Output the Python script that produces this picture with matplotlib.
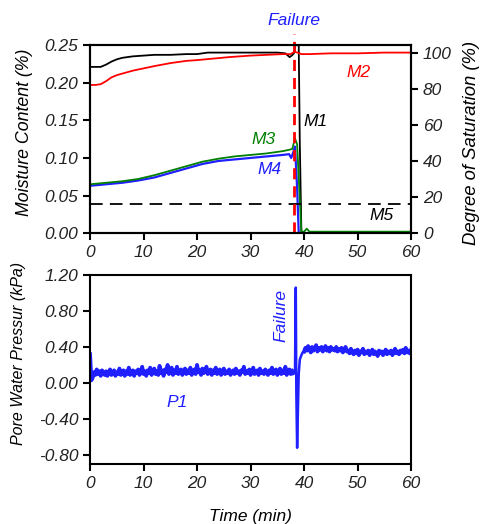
import numpy as np
import matplotlib
matplotlib.use("Agg")
import matplotlib.pyplot as plt

plt.rcParams['font.family'] = ['Liberation Sans', 'DejaVu Sans']
plt.rcParams['font.style'] = 'italic'
plt.rcParams['axes.unicode_minus'] = False

# -----------------------------
# Moisture sensors (top panel)
# -----------------------------
t_m1 = [0, 1, 2, 3, 4, 5, 6, 8, 10, 12, 15, 18, 20, 22, 25, 28, 30, 33, 35,
        36.5, 37.3, 37.7, 38.1, 38.4, 38.6, 39.0, 39.2, 39.5, 60]
m1 = [0.221, 0.221, 0.221, 0.224, 0.228, 0.231, 0.233, 0.235, 0.236, 0.237,
      0.237, 0.238, 0.238, 0.240, 0.240, 0.240, 0.240, 0.240, 0.240,
      0.239, 0.234, 0.236, 0.239, 0.250, 0.250, 0.250, 0.120, 0.000, 0.000]

t_m2 = [0, 1, 2, 3, 4, 5, 6, 8, 10, 12, 15, 18, 20, 23, 26, 30, 33, 36, 37.5,
        38.2, 38.8, 39.5, 41, 45, 50, 55, 60]
m2 = [0.197, 0.197, 0.198, 0.202, 0.207, 0.210, 0.212, 0.216, 0.219, 0.222,
      0.226, 0.229, 0.230, 0.232, 0.234, 0.236, 0.237, 0.238, 0.238,
      0.241, 0.240, 0.238, 0.238, 0.239, 0.239, 0.240, 0.240]

t_m3 = [0, 3, 6, 9, 12, 15, 18, 21, 24, 27, 30, 33, 36, 37.3, 37.8, 38.3, 38.7,
        39.1, 39.5, 40.0, 40.5, 41.0, 42, 50, 60]
m3 = [0.065, 0.067, 0.069, 0.072, 0.077, 0.083, 0.089, 0.095, 0.099, 0.102,
      0.104, 0.106, 0.109, 0.111, 0.112, 0.126, 0.118, 0.060, 0.002, 0.002,
      0.006, 0.002, 0.002, 0.002, 0.002]

t_m4 = [0, 3, 6, 9, 12, 15, 18, 21, 24, 27, 30, 33, 36, 37.2, 37.6, 38.0, 38.3,
        38.7, 39.0, 60]
m4 = [0.063, 0.065, 0.067, 0.070, 0.074, 0.080, 0.086, 0.092, 0.096, 0.098,
      0.100, 0.102, 0.104, 0.105, 0.100, 0.108, 0.115, 0.060, 0.000, 0.000]

t_m5 = [0, 60]
m5 = [0.039, 0.039]

t_failure = 38.1

# -----------------------------
# Pore water pressure (bottom panel), read every 0.25 min
# -----------------------------
p1_pre = [0.32, 0.03, 0.06, 0.12, 0.09, 0.15, 0.10, 0.13, 0.08, 0.14, 0.11, 0.09,
          0.13, 0.08, 0.12, 0.15, 0.09, 0.11, 0.14, 0.08, 0.12, 0.10, 0.16, 0.09,
          0.11, 0.14, 0.08, 0.13, 0.10, 0.17, 0.09, 0.12, 0.14, 0.08, 0.13, 0.11,
          0.15, 0.09, 0.12, 0.18, 0.10, 0.13, 0.08, 0.14, 0.11, 0.17, 0.09, 0.12,
          0.16, 0.10, 0.13, 0.09, 0.19, 0.11, 0.14, 0.08, 0.15, 0.12, 0.20, 0.10,
          0.13, 0.17, 0.09, 0.14, 0.11, 0.18, 0.10, 0.12, 0.15, 0.09, 0.13, 0.16,
          0.10, 0.14, 0.11, 0.17, 0.09, 0.13, 0.15, 0.10, 0.20, 0.12, 0.14, 0.09,
          0.16, 0.11, 0.13, 0.18, 0.10, 0.12, 0.15, 0.09, 0.14, 0.11, 0.17, 0.10,
          0.13, 0.15, 0.09, 0.12, 0.16, 0.10, 0.13, 0.11, 0.15, 0.09, 0.12, 0.14,
          0.10, 0.16, 0.11, 0.13, 0.09, 0.14, 0.12, 0.18, 0.10, 0.13, 0.11, 0.15,
          0.09, 0.13, 0.17, 0.10, 0.12, 0.14, 0.09, 0.16, 0.11, 0.13, 0.10, 0.15,
          0.12, 0.09, 0.14, 0.11, 0.17, 0.10, 0.13, 0.15, 0.09, 0.12, 0.16, 0.10,
          0.14, 0.11, 0.18, 0.09, 0.13, 0.15, 0.10, 0.14, 0.11]
t_pre = [0.25 * i for i in range(len(p1_pre))]

t_spike = [38.3, 38.45, 38.55, 38.7, 38.85, 39.0, 39.2, 39.5, 39.75]
p1_spike = [0.12, 1.06, -0.10, -0.72, -0.30, 0.10, 0.26, 0.31, 0.34]

p1_post = [0.35, 0.39, 0.36, 0.41, 0.37, 0.34, 0.40, 0.36, 0.38, 0.42, 0.35, 0.39,
           0.37, 0.40, 0.35, 0.38, 0.41, 0.36, 0.39, 0.35, 0.40, 0.37, 0.38, 0.36,
           0.40, 0.35, 0.38, 0.36, 0.39, 0.34, 0.37, 0.40, 0.35, 0.36, 0.33, 0.38,
           0.34, 0.32, 0.36, 0.33, 0.37, 0.31, 0.35, 0.34, 0.38, 0.32, 0.35, 0.33,
           0.36, 0.31, 0.34, 0.37, 0.32, 0.35, 0.33, 0.30, 0.36, 0.33, 0.35, 0.31,
           0.34, 0.37, 0.32, 0.35, 0.33, 0.36, 0.31, 0.34, 0.38, 0.33, 0.35, 0.32,
           0.36, 0.34, 0.37, 0.33, 0.39, 0.34, 0.36, 0.33, 0.37]
t_post = [40 + 0.25 * i for i in range(len(p1_post))]

t_p1 = t_pre + t_spike + t_post
p1 = p1_pre + p1_spike + p1_post

fs = 12.5
blue = '#1f1fff'
W, H = 480, 524

fig = plt.figure(figsize=(4.8, 5.24), dpi=100)
ax1 = fig.add_axes([0.1875, 0.555, 0.669, 0.359])
ax2 = fig.add_axes([0.1875, 0.1145, 0.669, 0.3607])

# top panel
ax1.plot(t_m1, m1, color='black', lw=1.3)
ax1.plot(t_m2, m2, color='red', lw=1.3)
ax1.plot(t_m4, m4, color=blue, lw=1.6)
ax1.plot(t_m3, m3, color='green', lw=1.3)
ax1.plot(t_m5, m5, color='black', lw=1.3, ls=(0, (7, 4)))
ax1.plot([t_failure, t_failure], [0, 0.265], color='red', lw=2.0,
         ls=(0, (4, 2.5)), clip_on=False)

ax1.set_xlim(0, 60)
ax1.set_ylim(0, 0.25)
ax1.set_xticks([0, 10, 20, 30, 40, 50, 60])
ax1.set_yticks([0, 0.05, 0.10, 0.15, 0.20, 0.25])
ax1.set_yticklabels(['0.00', '0.05', '0.10', '0.15', '0.20', '0.25'])

ax1r = ax1.twinx()
ax1r.set_ylim(0, 0.25 / 0.2398 * 100)
ax1r.set_yticks([0, 20, 40, 60, 80, 100])

ax1.text(t_failure, 0.273, 'Failure', color=blue, fontsize=fs,
         ha='center', va='bottom')
ax1.text(50.1, 0.214, 'M2', color='red', fontsize=fs, ha='center', va='center')
ax1.text(42.2, 0.148, 'M1', color='black', fontsize=fs, ha='center', va='center')
ax1.text(32.5, 0.124, 'M3', color='green', fontsize=fs, ha='center', va='center')
ax1.text(33.5, 0.084, 'M4', color=blue, fontsize=fs, ha='center', va='center')
ax1.text(54.4, 0.024, 'M5', color='black', fontsize=fs, ha='center', va='center')

# bottom panel: thin line for the failure spike, thicker for the noisy parts
ax2.plot(t_p1, p1, color=blue, lw=1.8)
ax2.plot(t_pre, p1_pre, color=blue, lw=2.8)
ax2.plot(t_post, p1_post, color=blue, lw=2.8)
ax2.set_xlim(0, 60)
ax2.set_ylim(-0.9, 1.2)
ax2.set_xticks([0, 10, 20, 30, 40, 50, 60])
ax2.set_yticks([-0.8, -0.4, 0.0, 0.4, 0.8, 1.2])
ax2.set_yticklabels(['-0.80', '-0.40', '0.00', '0.40', '0.80', '1.20'])
ax2.text(35.6, 0.75, 'Failure', color=blue, fontsize=fs, rotation=90,
         ha='center', va='center')
ax2.text(16.3, -0.22, 'P1', color=blue, fontsize=fs, ha='center', va='center')

# axis titles placed as in the source figure
fig.text(25 / W, 1 - 132 / H, 'Moisture Content (%)', fontsize=12.8,
         rotation=90, ha='center', va='center')
fig.text(471 / W, 1 - 143 / H, 'Degree of Saturation (%)', fontsize=13.3,
         rotation=90, ha='center', va='center')
fig.text(19 / W, 1 - 353 / H, 'Pore Water Pressur (kPa)', fontsize=11.5,
         rotation=90, ha='center', va='center')
fig.text(250 / W, 1 - 516 / H, 'Time (min)', fontsize=12.5,
         ha='center', va='center')

for ax in (ax1, ax1r, ax2):
    for s in ax.spines.values():
        s.set_linewidth(1.5)
    ax.tick_params(direction='out', width=1.5, length=5, labelsize=fs,
                   colors='black')
    for lab in ax.get_xticklabels() + ax.get_yticklabels():
        lab.set_fontstyle('italic')
        lab.set_color('#222222')

fig.savefig('out.png', dpi=100)
